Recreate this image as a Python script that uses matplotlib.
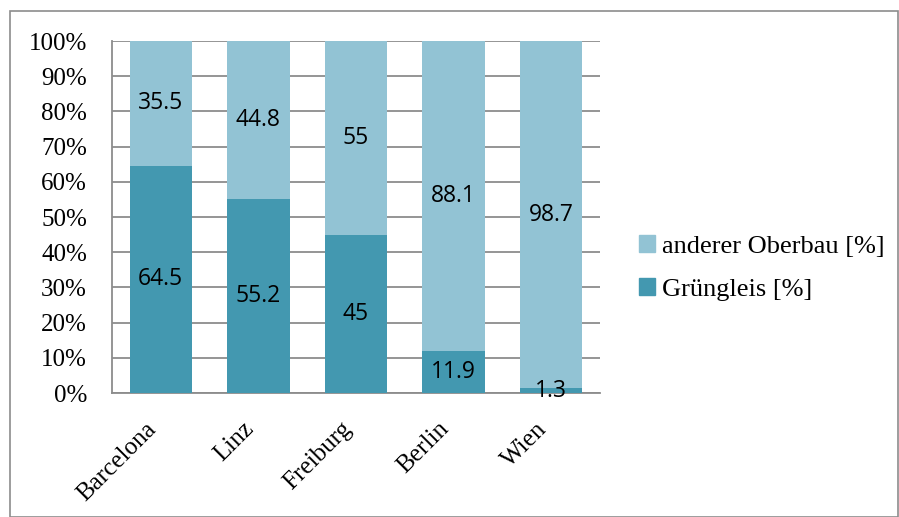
import numpy as np
import matplotlib.pyplot as plt
from matplotlib.patches import Rectangle, Patch

staedte = ["Barcelona", "Linz", "Freiburg", "Berlin", "Wien"]
gruengleis = [64.5, 55.2, 45, 11.9, 1.3]
anderer = [35.5, 44.8, 55, 88.1, 98.7]
y_ticks = [0, 10, 20, 30, 40, 50, 60, 70, 80, 90, 100]

farbe_dunkel = "#4398b0"
farbe_hell = "#92c3d4"
grau = "#8c8c8c"

fig = plt.figure(figsize=(8.99, 5.17), dpi=100)
ax = fig.add_axes([112 / 899, 1 - 393 / 517, 488 / 899, 352 / 517])

x = np.arange(len(staedte))
b1 = ax.bar(x, gruengleis, width=0.64, color=farbe_dunkel, zorder=3)
b2 = ax.bar(x, anderer, width=0.64, bottom=gruengleis, color=farbe_hell, zorder=3)

# Beschriftung in der Mitte der Segmente
for i in range(len(staedte)):
    ax.text(x[i], gruengleis[i] / 2, f"{gruengleis[i]:g}", ha="center", va="center",
            fontsize=16.5, family="Open Sans", zorder=4)
    ax.text(x[i], gruengleis[i] + anderer[i] / 2, f"{anderer[i]:g}", ha="center", va="center",
            fontsize=16.5, family="Open Sans", zorder=4)

ax.set_xlim(-0.5, len(staedte) - 0.5)
ax.set_ylim(0, 100)
ax.set_yticks(y_ticks)
ax.set_yticklabels([f"{t}%" for t in y_ticks], family="Liberation Serif", fontsize=18)
ax.set_xticks(x)
ax.set_xticklabels(staedte, rotation=45, ha="right", family="Liberation Serif", fontsize=18)
ax.tick_params(axis="both", length=0)
ax.tick_params(axis="x", pad=18)
ax.tick_params(axis="y", pad=18)

ax.yaxis.grid(True, color=grau, linewidth=1.3, zorder=0)
for s in ["top", "right"]:
    ax.spines[s].set_visible(False)
for s in ["left", "bottom"]:
    ax.spines[s].set_color(grau)
    ax.spines[s].set_linewidth(1.3)

handles = [Patch(color=farbe_hell), Patch(color=farbe_dunkel)]
fig.legend(handles, ["anderer Oberbau [%]", "Grüngleis [%]"], loc="center left",
           bbox_to_anchor=(615 / 899, 1 - 268 / 517), frameon=False,
           prop={"family": "Liberation Serif", "size": 19},
           handlelength=0.6, handleheight=0.6, handletextpad=0.3, labelspacing=0.75)

# Rahmen um das Diagramm
fig.patches.append(Rectangle((10 / 899, 0), 1 - 11 / 899, 1 - 11 / 517,
                             transform=fig.transFigure, fill=False,
                             edgecolor=grau, linewidth=1.2))

fig.savefig("out.png", dpi=100)
